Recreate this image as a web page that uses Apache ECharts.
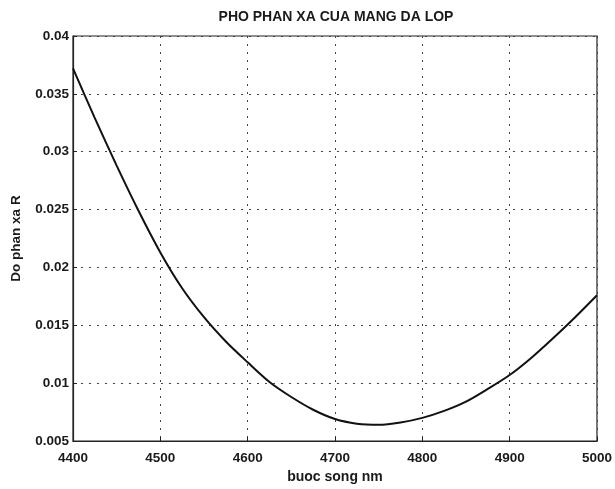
<!DOCTYPE html>
<html>
<head>
<meta charset="utf-8">
<script src="https://cdn.jsdelivr.net/npm/echarts@6/dist/echarts.min.js"></script>
<style>
  html, body { margin: 0; padding: 0; background: #fff; }
  #main { width: 615px; height: 489px; }
</style>
</head>
<body>
<div id="main"></div>
<script>
// buoc song (nm) va do phan xa doc tu hinh
var wavelength = [4400, 4425, 4450, 4475, 4500, 4525, 4550, 4575, 4600, 4625, 4650, 4675, 4700,
  4725, 4750, 4775, 4800, 4825, 4850, 4875, 4900, 4925, 4950, 4975, 5000];
var reflect = [0.0372, 0.0329, 0.0288, 0.0249, 0.0213, 0.0182, 0.0157, 0.0136, 0.0118, 0.0101, 0.0088, 0.0077, 0.0069,
  0.0065, 0.0064, 0.0066, 0.0070, 0.0076, 0.0084, 0.0095, 0.0107, 0.0122, 0.0139, 0.0157, 0.0176];
var xTicks = [4400, 4500, 4600, 4700, 4800, 4900, 5000];
var yTicks = [0.005, 0.01, 0.015, 0.02, 0.025, 0.03, 0.035, 0.04];

var chart = echarts.init(document.getElementById('main'), null, { renderer: 'canvas' });

var pts = wavelength.map(function (w, i) { return [w, reflect[i]]; });
var font = 'Liberation Sans, Arial, sans-serif';

var option = {
  backgroundColor: '#fff',
  animation: false,
  title: {
    text: 'PHO PHAN XA CUA MANG DA LOP',
    left: 331, textAlign: 'center', top: 5,
    textStyle: { fontFamily: font, fontSize: 14, fontWeight: 'bold', color: '#1a1a1a' }
  },
  grid: {
    left: 73, right: 18, top: 36, bottom: 48,
    show: true, borderColor: '#222', borderWidth: 1.2, backgroundColor: 'transparent'
  },
  xAxis: {
    type: 'value',
    min: xTicks[0], max: xTicks[xTicks.length - 1], interval: 100,
    name: 'buoc song nm', nameLocation: 'middle', nameGap: 28,
    nameTextStyle: { fontFamily: font, fontSize: 14, fontWeight: 'bold', color: '#1a1a1a' },
    axisLine: { show: true, lineStyle: { color: '#222', width: 1.2 } },
    axisTick: { show: true, inside: true, length: 4, lineStyle: { color: '#222' } },
    axisLabel: {
      fontFamily: font, fontSize: 13.5, fontWeight: 'bold', color: '#1a1a1a', margin: 10,
      formatter: function (v) { return String(v); }
    },
    splitLine: { show: true, lineStyle: { color: '#444', type: [2, 6], width: 1 } }
  },
  yAxis: {
    type: 'value',
    min: yTicks[0], max: yTicks[yTicks.length - 1], interval: 0.005,
    name: 'Do phan xa R', nameLocation: 'middle', nameGap: 50,
    nameTextStyle: { fontFamily: font, fontSize: 13.5, fontWeight: 'bold', color: '#1a1a1a' },
    axisLine: { show: true, lineStyle: { color: '#222', width: 1.2 } },
    axisTick: { show: true, inside: true, length: 4, lineStyle: { color: '#222' } },
    axisLabel: {
      fontFamily: font, fontSize: 13.5, fontWeight: 'bold', color: '#1a1a1a', margin: 4,
      formatter: function (v) { return String(parseFloat(v.toFixed(4))); }
    },
    splitLine: { show: true, lineStyle: { color: '#444', type: [2, 6], width: 1 } }
  },
  series: [{
    type: 'line',
    data: pts,
    smooth: 0.3,
    showSymbol: false,
    lineStyle: { color: '#111', width: 2 }
  }]
};
chart.setOption(option);
</script>
</body>
</html>
